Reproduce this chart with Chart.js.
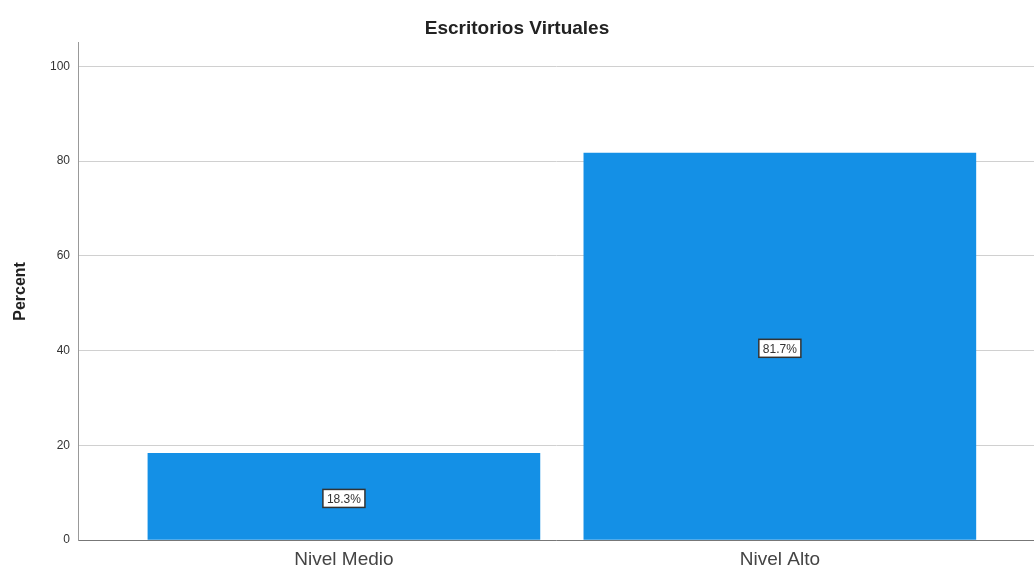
<!DOCTYPE html>
<html>
<head>
<meta charset="utf-8">
<script src="https://cdn.jsdelivr.net/npm/chart.js@4"></script>
<style>
  html, body { margin: 0; padding: 0; background: #fff; }
  #wrap { width: 1034px; height: 570px; position: relative; }
</style>
</head>
<body>
<div id="wrap"><canvas id="chart"></canvas></div>
<script>
// Chart data
const categories = ['Nivel Medio', 'Nivel Alto'];
const percents = [18.3, 81.7];
const yTicks = [0, 20, 40, 60, 80, 100];

// Label boxes in the middle of each bar
const boxLabels = {
    id: 'boxLabels',
    afterDatasetsDraw(chart) {
        const ctx = chart.ctx;
        const meta = chart.getDatasetMeta(0);
        ctx.save();
        ctx.font = '12px "Liberation Sans", Arial, sans-serif';
        ctx.textAlign = 'center';
        ctx.textBaseline = 'middle';
        meta.data.forEach((bar, i) => {
            const text = percents[i].toFixed(1) + '%';
            const cx = bar.x;
            const cy = (bar.y + bar.base) / 2 + 2;
            const w = ctx.measureText(text).width + 8;
            const h = 18;
            ctx.fillStyle = '#ffffff';
            ctx.fillRect(cx - w / 2, cy - h / 2, w, h);
            ctx.strokeStyle = '#333333';
            ctx.lineWidth = 1.5;
            ctx.strokeRect(cx - w / 2, cy - h / 2, w, h);
            ctx.fillStyle = '#333333';
            ctx.fillText(text, cx, cy + 1);
        });
        ctx.restore();
    }
};

new Chart(document.getElementById('chart'), {
    type: 'bar',
    data: {
        datasets: [{
            data: percents.map((v, i) => ({ x: i, y: v })),
            backgroundColor: '#1490e6',
            borderWidth: 0,
            barThickness: 392
        }]
    },
    options: {
        responsive: true,
        maintainAspectRatio: false,
        animation: false,
        layout: { padding: 0 },
        plugins: {
            legend: { display: false },
            tooltip: { enabled: false },
            title: {
                display: true,
                text: 'Escritorios Virtuales',
                color: '#222',
                font: { family: '"Liberation Sans", Arial, sans-serif', size: 19, weight: 'bold' },
                padding: { top: 17, bottom: 3 }
            }
        },
        scales: {
            x: {
                type: 'linear',
                offset: false,
                min: -0.61,
                max: 1.583,
                afterBuildTicks: (scale) => { scale.ticks = categories.map((c, i) => ({ value: i })); },
                afterFit: (scale) => { scale.height = 30; },
                grid: { display: false, drawTicks: false, offset: false },
                border: { display: true, color: '#777', width: 1 },
                ticks: {
                    padding: 8,
                    color: '#444',
                    font: { family: '"Liberation Sans", Arial, sans-serif', size: 19 },
                    callback: (v) => categories[v]
                }
            },
            y: {
                min: 0,
                max: 105,
                afterBuildTicks: (scale) => { scale.ticks = yTicks.map(v => ({ value: v })); },
                afterFit: (scale) => { scale.width = 78; },
                grid: { color: '#d0d0d0', lineWidth: 1, drawTicks: false },
                border: { display: true, color: '#999', width: 1 },
                ticks: {
                    padding: 8,
                    color: '#333',
                    font: { family: '"Liberation Sans", Arial, sans-serif', size: 12 }
                },
                title: {
                    display: true,
                    text: 'Percent',
                    color: '#222',
                    font: { family: '"Liberation Sans", Arial, sans-serif', size: 16, weight: 'bold' },
                    padding: { top: 11, bottom: 0 }
                }
            }
        }
    },
    plugins: [boxLabels]
});
</script>
</body>
</html>
